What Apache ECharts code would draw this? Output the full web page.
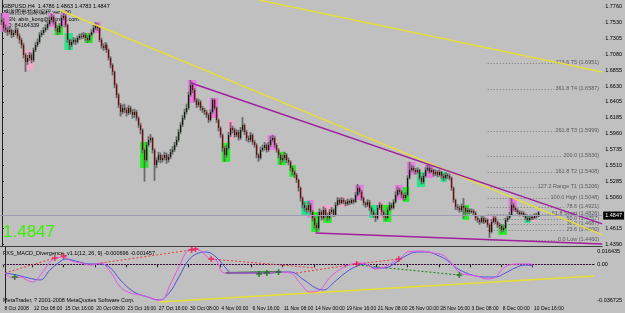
<!DOCTYPE html>
<html><head><meta charset="utf-8">
<script src="https://cdn.jsdelivr.net/npm/echarts@6/dist/echarts.min.js"></script>
<style>html,body{margin:0;padding:0;background:#C0C0C0}#c{width:625px;height:313px}</style>
</head><body><div id="c"></div>
<script>
// ---------------- DATA ----------------
const opens = [
1.7563,1.7534,1.7450,1.7421,1.7393,1.7421,1.7351,1.7379,1.7421,1.7337,
1.7280,1.7210,1.7068,1.6970,1.7026,1.7068,1.6998,1.7139,1.7210,1.7252,
1.7351,1.7379,1.7421,1.7450,1.7506,1.7563,1.7605,1.7534,1.7450,1.7393,
1.7478,1.7591,1.7619,1.7492,1.7280,1.7210,1.7252,1.7280,1.7252,1.7308,
1.7337,1.7323,1.7351,1.7308,1.7280,1.7351,1.7393,1.7450,1.7492,1.7450,
1.7280,1.7195,1.7167,1.7210,1.7139,1.7026,1.6927,1.6828,1.6645,1.6504,
1.6362,1.6264,1.6320,1.6292,1.6249,1.6320,1.6264,1.6221,1.6264,1.6179,
1.6080,1.6009,1.5727,1.5586,1.5798,1.5868,1.5896,1.5727,1.5515,1.5586,
1.5656,1.5586,1.5614,1.5656,1.5586,1.5628,1.5699,1.5727,1.5798,1.5868,
1.5981,1.6080,1.6179,1.6264,1.6320,1.6504,1.6645,1.6574,1.6433,1.6362,
1.6405,1.6320,1.6292,1.6264,1.6221,1.6151,1.6264,1.6433,1.6320,1.6151,
1.6038,1.5939,1.5755,1.5656,1.5755,1.5939,1.6038,1.6009,1.5939,1.5981,
1.5896,1.6009,1.6080,1.5981,1.5896,1.5868,1.5939,1.5840,1.5798,1.5656,
1.5614,1.5727,1.5755,1.5798,1.5727,1.5798,1.5868,1.5896,1.5798,1.5727,
1.5656,1.5586,1.5614,1.5656,1.5586,1.5558,1.5473,1.5416,1.5374,1.5303,
1.5190,1.5049,1.4950,1.4908,1.4880,1.4950,1.4852,1.4767,1.4668,1.4626,
1.4809,1.4852,1.4767,1.4880,1.4809,1.4767,1.4852,1.4880,1.4809,1.4950,
1.5021,1.4979,1.5021,1.4993,1.4965,1.5007,1.4979,1.5021,1.4993,1.5092,
1.5190,1.5134,1.5049,1.4979,1.4950,1.4993,1.4908,1.4852,1.4809,1.4767,
1.4908,1.4950,1.4852,1.4809,1.4767,1.4880,1.4950,1.4908,1.4993,1.5092,
1.5162,1.5134,1.5092,1.5049,1.5092,1.5332,1.5445,1.5473,1.5445,1.5416,
1.5445,1.5332,1.5275,1.5360,1.5445,1.5473,1.5416,1.5445,1.5388,1.5416,
1.5374,1.5416,1.5360,1.5332,1.5374,1.5360,1.5332,1.5190,1.5021,1.4922,
1.4908,1.4880,1.4936,1.4908,1.4852,1.4880,1.4852,1.4866,1.4837,1.4767,
1.4739,1.4710,1.4767,1.4710,1.4739,1.4668,1.4569,1.4710,1.4767,1.4710,
1.4668,1.4654,1.4597,1.4626,1.4739,1.4767,1.4809,1.4950,1.4908,1.4880,
1.4852,1.4823,1.4837,1.4809,1.4767,1.4739,1.4767,1.4781,1.4767,1.4809,
1.4786];
const highs = [
1.7661,1.7590,1.7500,1.7460,1.7470,1.7440,1.7420,1.7470,1.7450,1.7370,
1.7310,1.7240,1.7100,1.7070,1.7110,1.7100,1.7170,1.7250,1.7300,1.7390,
1.7420,1.7460,1.7500,1.7540,1.7610,1.7650,1.7630,1.7560,1.7480,1.7520,
1.7630,1.7661,1.7640,1.7510,1.7300,1.7290,1.7320,1.7310,1.7340,1.7370,
1.7380,1.7390,1.7380,1.7340,1.7380,1.7430,1.7490,1.7530,1.7520,1.7470,
1.7310,1.7230,1.7250,1.7240,1.7160,1.7050,1.6950,1.6850,1.6670,1.6530,
1.6390,1.6370,1.6380,1.6330,1.6360,1.6350,1.6300,1.6310,1.6290,1.6200,
1.6110,1.6030,1.5750,1.5840,1.5920,1.5950,1.5910,1.5750,1.5620,1.5700,
1.5690,1.5660,1.5700,1.5690,1.5670,1.5740,1.5780,1.5840,1.5920,1.6020,
1.6120,1.6220,1.6310,1.6380,1.6550,1.6715,1.6680,1.6600,1.6460,1.6450,
1.6430,1.6350,1.6320,1.6290,1.6250,1.6300,1.6460,1.6450,1.6340,1.6170,
1.6060,1.5960,1.5780,1.5800,1.5980,1.6120,1.6070,1.6040,1.6020,1.6010,
1.6050,1.6190,1.6100,1.6010,1.5930,1.5980,1.5960,1.5870,1.5820,1.5680,
1.5770,1.5800,1.5840,1.5820,1.5840,1.5920,1.5940,1.5920,1.5820,1.5750,
1.5680,1.5660,1.5700,1.5680,1.5620,1.5580,1.5500,1.5440,1.5400,1.5320,
1.5210,1.5070,1.4990,1.4940,1.5000,1.4980,1.4880,1.4790,1.4700,1.4850,
1.4900,1.4880,1.4930,1.4910,1.4840,1.4890,1.4920,1.4900,1.4990,1.5060,
1.5050,1.5060,1.5050,1.5020,1.5040,1.5030,1.5050,1.5040,1.5130,1.5245,
1.5210,1.5160,1.5070,1.5000,1.5030,1.5020,1.4930,1.4880,1.4830,1.4950,
1.4990,1.4970,1.4880,1.4830,1.4920,1.4990,1.4980,1.5030,1.5140,1.5210,
1.5190,1.5160,1.5110,1.5130,1.5370,1.5558,1.5520,1.5500,1.5470,1.5480,
1.5460,1.5360,1.5400,1.5480,1.5515,1.5500,1.5480,1.5460,1.5450,1.5440,
1.5450,1.5430,1.5390,1.5410,1.5400,1.5390,1.5350,1.5210,1.5040,1.4960,
1.4940,1.4970,1.5049,1.4930,1.4910,1.4900,1.4900,1.4890,1.4860,1.4790,
1.4760,1.4800,1.4790,1.4770,1.4760,1.4690,1.4750,1.4800,1.4790,1.4730,
1.4700,1.4680,1.4660,1.4770,1.4800,1.4850,1.5049,1.4980,1.4930,1.4900,
1.4870,1.4870,1.4860,1.4830,1.4790,1.4800,1.4810,1.4800,1.4830,1.4840,
1.4863];
const lows = [
1.7490,1.7400,1.7380,1.7340,1.7360,1.7310,1.7320,1.7350,1.7300,1.7230,
1.7160,1.7020,1.6830,1.6930,1.6990,1.6950,1.6970,1.7110,1.7180,1.7230,
1.7320,1.7350,1.7390,1.7420,1.7480,1.7530,1.7500,1.7410,1.7350,1.7370,
1.7450,1.7560,1.7460,1.7240,1.7140,1.7180,1.7220,1.7210,1.7230,1.7280,
1.7290,1.7300,1.7270,1.7240,1.7260,1.7330,1.7370,1.7420,1.7410,1.7250,
1.7160,1.7130,1.7140,1.7100,1.6990,1.6880,1.6780,1.6600,1.6460,1.6320,
1.6200,1.6230,1.6250,1.6200,1.6220,1.6230,1.6170,1.6180,1.6140,1.6040,
1.5950,1.5680,1.5280,1.5560,1.5770,1.5830,1.5680,1.5290,1.5470,1.5550,
1.5540,1.5550,1.5580,1.5530,1.5550,1.5600,1.5660,1.5700,1.5770,1.5840,
1.5950,1.6050,1.6150,1.6230,1.6290,1.6480,1.6530,1.6400,1.6320,1.6330,
1.6280,1.6250,1.6220,1.6180,1.6110,1.6130,1.6240,1.6290,1.6110,1.5990,
1.5900,1.5700,1.5560,1.5620,1.5730,1.5910,1.5960,1.5900,1.5910,1.5860,
1.5870,1.5980,1.5940,1.5850,1.5830,1.5840,1.5800,1.5760,1.5610,1.5560,
1.5590,1.5700,1.5720,1.5690,1.5700,1.5770,1.5840,1.5760,1.5690,1.5610,
1.5520,1.5550,1.5580,1.5540,1.5510,1.5430,1.5370,1.5330,1.5260,1.5140,
1.5000,1.4900,1.4860,1.4830,1.4850,1.4810,1.4720,1.4620,1.4570,1.4600,
1.4780,1.4730,1.4740,1.4770,1.4720,1.4740,1.4820,1.4780,1.4790,1.4930,
1.4950,1.4960,1.4960,1.4930,1.4940,1.4950,1.4960,1.4960,1.4980,1.5070,
1.5100,1.5010,1.4940,1.4910,1.4920,1.4870,1.4810,1.4770,1.4710,1.4740,
1.4880,1.4810,1.4770,1.4730,1.4750,1.4860,1.4880,1.4890,1.4970,1.5070,
1.5100,1.5050,1.5010,1.5020,1.5070,1.5310,1.5420,1.5410,1.5380,1.5390,
1.5300,1.5240,1.5250,1.5340,1.5420,1.5390,1.5400,1.5350,1.5360,1.5340,
1.5350,1.5320,1.5290,1.5310,1.5320,1.5300,1.5150,1.4980,1.4880,1.4870,
1.4840,1.4850,1.4760,1.4810,1.4830,1.4820,1.4830,1.4800,1.4730,1.4700,
1.4670,1.4690,1.4680,1.4690,1.4630,1.4485,1.4550,1.4690,1.4680,1.4630,
1.4610,1.4560,1.4570,1.4610,1.4710,1.4750,1.4790,1.4870,1.4850,1.4820,
1.4790,1.4800,1.4780,1.4740,1.4710,1.4720,1.4740,1.4740,1.4750,1.4760,
1.4783];
const closes = [
1.7534,1.7450,1.7421,1.7393,1.7421,1.7351,1.7379,1.7421,1.7337,1.7280,
1.7210,1.7068,1.6970,1.7026,1.7068,1.6998,1.7139,1.7210,1.7252,1.7351,
1.7379,1.7421,1.7450,1.7506,1.7563,1.7605,1.7534,1.7450,1.7393,1.7478,
1.7591,1.7619,1.7492,1.7280,1.7210,1.7252,1.7280,1.7252,1.7308,1.7337,
1.7323,1.7351,1.7308,1.7280,1.7351,1.7393,1.7450,1.7492,1.7450,1.7280,
1.7195,1.7167,1.7210,1.7139,1.7026,1.6927,1.6828,1.6645,1.6504,1.6362,
1.6264,1.6320,1.6292,1.6249,1.6320,1.6264,1.6221,1.6264,1.6179,1.6080,
1.6009,1.5727,1.5586,1.5798,1.5868,1.5896,1.5727,1.5515,1.5586,1.5656,
1.5586,1.5614,1.5656,1.5586,1.5628,1.5699,1.5727,1.5798,1.5868,1.5981,
1.6080,1.6179,1.6264,1.6320,1.6504,1.6645,1.6574,1.6433,1.6362,1.6405,
1.6320,1.6292,1.6264,1.6221,1.6151,1.6264,1.6433,1.6320,1.6151,1.6038,
1.5939,1.5755,1.5656,1.5755,1.5939,1.6038,1.6009,1.5939,1.5981,1.5896,
1.6009,1.6080,1.5981,1.5896,1.5868,1.5939,1.5840,1.5798,1.5656,1.5614,
1.5727,1.5755,1.5798,1.5727,1.5798,1.5868,1.5896,1.5798,1.5727,1.5656,
1.5586,1.5614,1.5656,1.5586,1.5558,1.5473,1.5416,1.5374,1.5303,1.5190,
1.5049,1.4950,1.4908,1.4880,1.4950,1.4852,1.4767,1.4668,1.4626,1.4809,
1.4852,1.4767,1.4880,1.4809,1.4767,1.4852,1.4880,1.4809,1.4950,1.5021,
1.4979,1.5021,1.4993,1.4965,1.5007,1.4979,1.5021,1.4993,1.5092,1.5190,
1.5134,1.5049,1.4979,1.4950,1.4993,1.4908,1.4852,1.4809,1.4767,1.4908,
1.4950,1.4852,1.4809,1.4767,1.4880,1.4950,1.4908,1.4993,1.5092,1.5162,
1.5134,1.5092,1.5049,1.5092,1.5332,1.5445,1.5473,1.5445,1.5416,1.5445,
1.5332,1.5275,1.5360,1.5445,1.5473,1.5416,1.5445,1.5388,1.5416,1.5374,
1.5416,1.5360,1.5332,1.5374,1.5360,1.5332,1.5190,1.5021,1.4922,1.4908,
1.4880,1.4936,1.4908,1.4852,1.4880,1.4852,1.4866,1.4837,1.4767,1.4739,
1.4710,1.4767,1.4710,1.4739,1.4668,1.4569,1.4710,1.4767,1.4710,1.4668,
1.4654,1.4597,1.4626,1.4739,1.4767,1.4809,1.4950,1.4908,1.4880,1.4852,
1.4823,1.4837,1.4809,1.4767,1.4739,1.4767,1.4781,1.4767,1.4809,1.4786,
1.4847];

// signal boxes [firstBar, lastBar, topPrice, bottomPrice]
const magentaBoxes = [[0,3,1.7661,1.7393],[24,26,1.7661,1.7464],[30,32,1.7661,1.7464],[47,49,1.7534,1.7379],
  [94,97,1.6715,1.6391],[105,108,1.6461,1.6179],[134,137,1.5939,1.5727],[154,156,1.5021,1.4767],
  [178,181,1.5233,1.5021],[198,201,1.5233,1.5021],[204,207,1.5558,1.5374],[213,216,1.5515,1.5332],[255,258,1.5049,1.4852]];
const pinkBoxes = [[12,15,1.7139,1.6857],[114,116,1.6151,1.5868],[161,165,1.4950,1.4710],[170,173,1.5063,1.4922],
  [189,191,1.4993,1.4739],[245,248,1.4809,1.4668],[265,268,1.4809,1.4710]];
const greenBoxes = [[27,30,1.7492,1.7351],[42,45,1.7379,1.7238],[70,73,1.5840,1.5473],[111,114,1.5826,1.5558],
  [139,142,1.5699,1.5515],[145,147,1.5515,1.5346],[156,159,1.4852,1.4569],[162,165,1.4809,1.4696],
  [192,195,1.4950,1.4710],[202,204,1.5205,1.4993],[232,234,1.4950,1.4739],[250,253,1.4668,1.4527]];
const aquaBoxes = [[32,35,1.7379,1.7139],[151,154,1.5007,1.4809],[185,188,1.4950,1.4767],[209,212,1.5416,1.5205],
  [221,223,1.5416,1.5275],[263,265,1.4809,1.4696]];

// trend lines [bar, price]
const yellowLineA = [[29,1.7704],[301.5,1.4527]];
const yellowLineB = [[129,1.7845],[301.5,1.6828]];
const purpleLineA = [[95,1.6673],[301.5,1.4682]];
const purpleLineB = [[157.5,1.4555],[301.5,1.4400]];

// fibonacci levels
const fibStartBar = 244;
const fibPrices = [1.6951,1.6587,1.5999,1.5636,1.5411,1.5208,1.5048,1.4922,1.4823,1.4754,1.4685,1.4599,1.4460];
const fibLabels = ["423.6 T5 (1.6951)","361.8 T4 (1.6587)","261.8 T3 (1.5999)","200.0 (1.5630)","161.8 T2 (1.5408)",
  "127.2 Range T1 (1.5206)","100.0 High (1.5048)","78.6 (1.4921)","61.8 Short (1.4826)","50.0 (1.4757)",
  "38.2 (1.4687)","23.6 (1.4600)","0.0 Low (1.4460)"];

// price axis
const priceTicks = [1.7760,1.7530,1.7305,1.7080,1.6855,1.6630,1.6405,1.6185,1.5960,1.5735,1.5510,1.5285,1.5060,1.4615,1.4390];
// time axis
const timeTickBars = [-1,14,30,46,62,78,94,110,126,142,158,174,190,206,222,238,254,270];
const timeTickLabels = ["8 Oct 2008","12 Oct 08:00","15 Oct 16:00","20 Oct 08:00","23 Oct 16:00","27 Oct 16:00","30 Oct 08:00",
  "4 Nov 00:00","6 Nov 16:00","11 Nov 08:00","14 Nov 00:00","19 Nov 16:00","21 Nov 08:00","26 Nov 00:00","28 Nov 16:00",
  "3 Dec 08:00","8 Dec 00:00","10 Dec 16:00"];

// MACD indicator [bar, value]
const macdMain = [[0,-0.0083],[4,-0.0130],[8,-0.0121],[11,-0.0149],[14,-0.0168],[19,-0.0083],[24,0.0041],[30,0.0069],
  [34,0.0031],[39,0.0012],[44,-0.0007],[49,0.0012],[54,-0.0073],[59,-0.0215],[64,-0.0272],[69,-0.0291],[73,-0.0310],
  [78,-0.0339],[81,-0.0329],[84,-0.0215],[89,-0.0026],[94,0.0136],[97,0.0145],[101,0.0117],[104,0.0060],[108,0.0041],
  [111,-0.0073],[114,-0.0083],[119,-0.0083],[126,-0.0083],[133,-0.0083],[139,-0.0073],[146,-0.0083],[151,-0.0177],
  [156,-0.0263],[161,-0.0244],[166,-0.0130],[171,-0.0054],[176,-0.0007],[181,0.0012],[186,-0.0007],[189,-0.0045],
  [194,-0.0026],[199,0.0022],[203,0.0069],[206,0.0117],[213,0.0126],[219,0.0107],[224,0.0088],[228,0.0022],
  [233,-0.0083],[238,-0.0102],[243,-0.0121],[246,-0.0140],[251,-0.0121],[254,-0.0054],[258,-0.0007],[263,0.0003],
  [269,0.0003],[270,-0.0007]];
const macdSignal = [[0,-0.0083],[6,-0.0102],[12,-0.0130],[18,-0.0149],[23,-0.0054],[28,0.0022],[31,0.0050],[38,0.0022],
  [43,0.0003],[49,0.0003],[54,-0.0035],[59,-0.0149],[66,-0.0263],[73,-0.0310],[79,-0.0339],[84,-0.0272],[89,-0.0121],
  [94,0.0041],[99,0.0107],[103,0.0117],[108,0.0069],[113,-0.0035],[116,-0.0083],[123,-0.0083],[129,-0.0083],
  [136,-0.0083],[141,-0.0073],[146,-0.0073],[153,-0.0149],[159,-0.0225],[163,-0.0244],[168,-0.0177],[174,-0.0083],
  [179,-0.0026],[184,0.0003],[189,-0.0035],[194,-0.0035],[199,0.0003],[204,0.0069],[211,0.0117],[216,0.0117],
  [221,0.0088],[226,0.0041],[231,-0.0035],[236,-0.0083],[241,-0.0111],[246,-0.0121],[251,-0.0121],[256,-0.0083],
  [261,-0.0035],[266,-0.0007],[270,-0.0015]];
const macdBearLines = [
  [[0,-0.0083],[25.5,0.0060]],
  [[49,0.0012],[95.5,0.0136]],
  [[105.5,0.0050],[159,-0.0035]],
  [[149,-0.0083],[180,0.0003],[201.5,0.0050]]
];
const macdBullLines = [[[180.5,-0.0007],[232.5,-0.0102]]];
const macdBullSolid = [[113,-0.0083],[141,-0.0073]];
const macdBearMarks = [[25.5,0.0060],[30,0.0079],[95.5,0.0136],[97.5,0.0145],[105.5,0.0050],[180,0.0003],[201.5,0.0050]];
const macdBullMarks = [[5,-0.0120],[130,-0.0092],[134,-0.0083],[140,-0.0073],[232.5,-0.0102]];
const macdTrend = [[79,-0.0358],[301.5,-0.0111]];
const macdTickValues = [0.0126,0,-0.0348];
const macdTickLabels = ["0.016435","0.00","-0.036725"];

const headerLines = ["GBPUSD,H4  1.4786 1.4863 1.4783 1.4847","感谢图形指标编程 ver1.00","MSN: abin_kong@hotmail.com","QQ: 84164339"];
const macdTitle = "FXS_MACD_Divergence_v1.1(12, 26, 9) -0.000696 -0.001457";
const copyright = "MetaTrader, ? 2001-2008 MetaQuotes Software Corp.";

// ---------------- CHART ----------------
const FONT = 'Liberation Sans';
const BG = '#C0C0C0';
const chart = echarts.init(document.getElementById('c'));
const lastPrice = closes[closes.length - 1];
const candleData = closes.map((c, i) => [i, opens[i], highs[i], lows[i], c]);

function candleItem(params, api) {
  const i = api.value(0), o = api.value(1), h = api.value(2), l = api.value(3), c = api.value(4);
  const ph = api.coord([i, h]), pl = api.coord([i, l]);
  const po = api.coord([i, o]), pc = api.coord([i, c]);
  const x = Math.round(ph[0]) - 1;
  const y1 = Math.min(po[1], pc[1]), y2 = Math.max(po[1], pc[1]);
  return { type: 'group', children: [
    { type: 'rect', shape: { x: x - 0.4, y: ph[1], width: 1.8, height: Math.max(1, pl[1] - ph[1]) }, style: { fill: '#6A6A6A' } },
    { type: 'rect', shape: { x: x, y: y1, width: 1.2, height: Math.max(1, y2 - y1) }, style: { fill: c >= o ? '#0A200A' : '#780808' } }
  ]};
}
function boxSeries(data, color) {
  return { type: 'custom', xAxisIndex: 0, yAxisIndex: 0, z: 1, silent: true, data: data,
    renderItem: (p, api) => {
      const a = api.coord([api.value(0) - 0.6, api.value(2)]);
      const b = api.coord([api.value(1) + 0.6, api.value(3)]);
      return { type: 'rect', shape: { x: a[0], y: a[1], width: b[0] - a[0], height: b[1] - a[1] }, style: { fill: color } };
    } };
}
function lineSeries(data, color, width, type, xi, yi, z) {
  return { type: 'line', xAxisIndex: xi, yAxisIndex: yi, data: data, symbol: 'none', silent: true, z: z || 3,
    lineStyle: { color: color, width: width, type: type } };
}
const plusPath = 'path://M3,0H5V3H8V5H5V8H3V5H0V3H3Z';

const series = [];
series.push(boxSeries(magentaBoxes, '#EC78E4'));
series.push(boxSeries(pinkBoxes, '#F2AACB'));
series.push(boxSeries(greenBoxes, '#1EF01E'));
series.push(boxSeries(aquaBoxes, '#22E88A'));
// fib levels
series.push({ type: 'custom', xAxisIndex: 0, yAxisIndex: 0, z: 2, silent: true,
  data: fibPrices.map((p, k) => [k, p]),
  renderItem: (params, api) => {
    const p = api.value(1);
    const s = api.coord([fibStartBar, p]);
    const e = api.coord([301.5, p]);
    return { type: 'group', children: [
      { type: 'line', shape: { x1: s[0], y1: Math.round(s[1]) + 0.5, x2: e[0] - 2, y2: Math.round(s[1]) + 0.5 },
        style: { stroke: '#7A7A7A', lineWidth: 1, lineDash: [1, 2] } },
      { type: 'text', style: { text: fibLabels[params.dataIndex], x: e[0] - 2, y: Math.round(s[1]) - 1, align: 'right',
        verticalAlign: 'middle', fill: '#5A5A5A', font: '5.5px ' + FONT, backgroundColor: BG, padding: [0, 1] } }
    ]};
  } });
// current price line
series.push({ type: 'line', xAxisIndex: 0, yAxisIndex: 0, data: [], symbol: 'none', silent: true,
  markLine: { silent: true, symbol: 'none', data: [{ yAxis: lastPrice }], lineStyle: { color: '#9C9CB8', width: 1, type: 'solid' },
    label: { position: 'end', formatter: lastPrice.toFixed(4), backgroundColor: '#000', color: '#fff', fontSize: 5.5,
      fontFamily: FONT, padding: [1, 2], distance: 1 } } });
series.push(lineSeries(yellowLineA, '#E6DC3C', 1.5, 'solid', 0, 0, 4));
series.push(lineSeries(yellowLineB, '#E6DC3C', 1.5, 'solid', 0, 0, 4));
series.push(lineSeries(purpleLineA, '#A020A0', 1.5, 'solid', 0, 0, 4));
series.push(lineSeries(purpleLineB, '#A020A0', 1.5, 'solid', 0, 0, 4));
series.push({ type: 'custom', xAxisIndex: 0, yAxisIndex: 0, z: 3, silent: true, data: candleData, renderItem: candleItem,
  encode: { x: 0, y: [1, 2, 3, 4] } });

// MACD panel
series.push({ type: 'line', xAxisIndex: 1, yAxisIndex: 1, data: [], symbol: 'none', silent: true,
  markLine: { silent: true, symbol: 'none', data: [{ yAxis: 0 }], label: { show: false },
    lineStyle: { color: '#E880E8', width: 1, type: [1, 2] } } });
series.push(lineSeries(macdTrend, '#E8E030', 1.5, 'solid', 1, 1, 2));
macdBearLines.forEach(l => series.push(lineSeries(l, '#F03838', 1, [2, 2], 1, 1, 3)));
macdBullLines.forEach(l => series.push(lineSeries(l, '#108010', 1, [2, 2], 1, 1, 3)));
series.push(lineSeries(macdBullSolid, '#108010', 2, 'solid', 1, 1, 3));
series.push(Object.assign(lineSeries(macdSignal, '#5050E0', 1, 'solid', 1, 1, 5), { smooth: 0.4 }));
series.push(Object.assign(lineSeries(macdMain, '#E850E8', 1, 'solid', 1, 1, 5), { smooth: 0.4 }));
series.push({ type: 'scatter', xAxisIndex: 1, yAxisIndex: 1, data: macdBearMarks, symbol: plusPath, symbolSize: 6, z: 6,
  silent: true, itemStyle: { color: '#F01840' } });
series.push({ type: 'scatter', xAxisIndex: 1, yAxisIndex: 1, data: macdBullMarks, symbol: plusPath, symbolSize: 6, z: 6,
  silent: true, itemStyle: { color: '#107010' } });

const textStyle = (t, x, y, size, fill) => ({ type: 'text', left: x, top: y, silent: true,
  style: { text: t, fill: fill || '#000', font: size + 'px ' + FONT } });

chart.setOption({
  animation: false,
  backgroundColor: BG,
  grid: [
    { left: 0, top: 0, width: 605, height: 246, show: false },
    { left: 0, top: 247, width: 605, height: 56, show: false }
  ],
  xAxis: [
    { type: 'value', gridIndex: 0, min: -1, max: 301.5, axisLabel: { show: false }, axisTick: { show: false },
      splitLine: { show: false }, axisLine: { show: true, lineStyle: { color: '#404040', width: 1 } } },
    { type: 'value', gridIndex: 1, min: -1, max: 301.5, splitLine: { show: false },
      axisLine: { show: true, lineStyle: { color: '#202020', width: 1 } },
      axisTick: { show: true, customValues: timeTickBars, length: 3, lineStyle: { color: '#202020' } },
      axisLabel: { show: true, customValues: timeTickBars, align: 'left', margin: 3, fontSize: 5, fontFamily: FONT, color: '#000',
        hideOverlap: false, showMinLabel: true, showMaxLabel: true,
        formatter: v => { const k = timeTickBars.indexOf(v); return k >= 0 ? ' ' + timeTickLabels[k] : ''; } } }
  ],
  yAxis: [
    { type: 'value', gridIndex: 0, position: 'right', min: 1.4370, max: 1.7845, splitLine: { show: false },
      axisLine: { show: true, lineStyle: { color: '#202020' } },
      axisTick: { show: true, customValues: priceTicks, length: 2, lineStyle: { color: '#202020' } },
      axisLabel: { show: true, customValues: priceTicks, margin: 3, fontSize: 5.5, fontFamily: FONT, color: '#000',
        formatter: v => v.toFixed(4) } },
    { type: 'value', gridIndex: 1, position: 'right', min: -0.0368, max: 0.016435, splitLine: { show: false },
      axisLine: { show: true, lineStyle: { color: '#202020' } },
      axisTick: { show: false },
      axisLabel: { show: true, customValues: macdTickValues, margin: 3, fontSize: 5.5, fontFamily: FONT, color: '#000',
        formatter: v => { const k = macdTickValues.indexOf(v); return k >= 0 ? macdTickLabels[k] : ''; } } }
  ],
  graphic: [
    textStyle(headerLines[0], 3, 3, 5.5),
    textStyle(headerLines[1], 3, 9, 5.5),
    textStyle(headerLines[2], 3, 16, 5.5),
    textStyle(headerLines[3], 3, 22, 5.5),
    textStyle(lastPrice.toFixed(4), 3, 224, 17, '#3CF000'),
    textStyle(macdTitle, 3, 250, 5.5),
    textStyle(copyright, 3, 297, 5.5)
  ],
  series: series
});
</script></body></html>
